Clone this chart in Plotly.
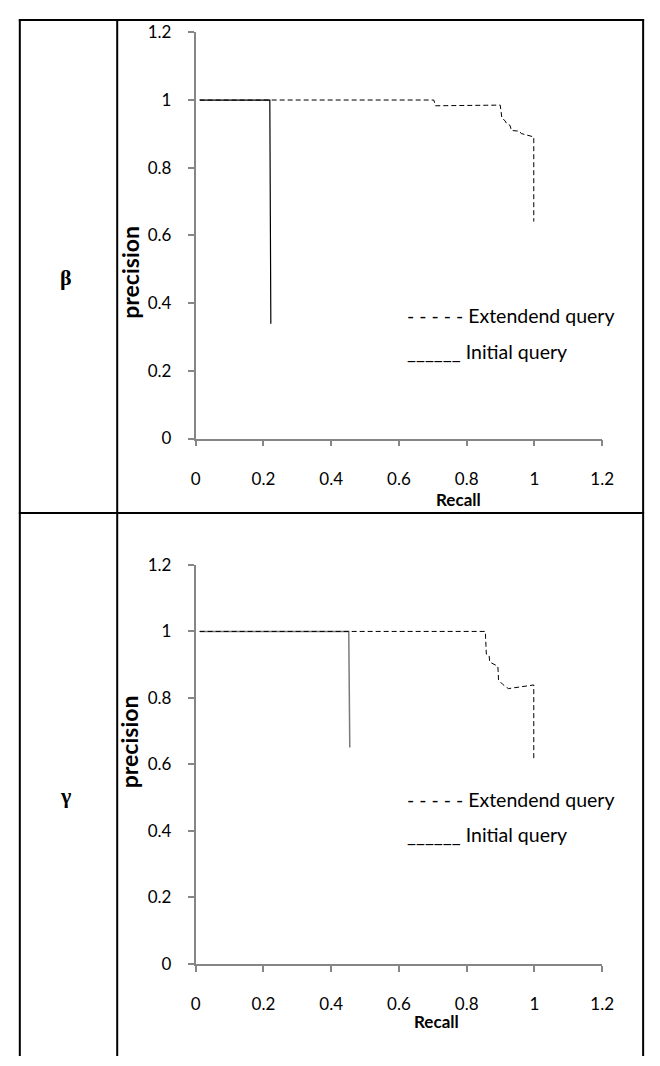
import plotly.graph_objects as go

# page is drawn inside the default 8px body margin, so work in window pixels
OFF = 8
FW, FH = 652, 1058

# ---------------- data ----------------
tick_vals = [0, 0.2, 0.4, 0.6, 0.8, 1.0, 1.2]
tick_text = ["0", "0.2", "0.4", "0.6", "0.8", "1", "1.2"]

row_labels = ["β", "γ"]

# beta chart
beta_init_recall = [0.012, 0.219, 0.222]
beta_init_precision = [1.0, 1.0, 0.339]
beta_ext_recall = [0.012, 0.219, 0.703, 0.7075, 0.899, 0.904, 0.913, 0.918, 0.928,
                   0.932, 0.956, 0.961, 0.980, 0.998, 0.998]
beta_ext_precision = [1.0, 1.0, 1.0, 0.983, 0.985, 0.946, 0.939, 0.930, 0.925,
                      0.910, 0.908, 0.901, 0.896, 0.891, 0.641]

# gamma chart
gamma_init_recall = [0.012, 0.452, 0.455]
gamma_init_precision = [1.0, 1.0, 0.651]
gamma_ext_recall = [0.012, 0.452, 0.855, 0.858, 0.866, 0.868, 0.892, 0.894, 0.906,
                    0.923, 0.998, 0.998]
gamma_ext_precision = [1.0, 1.0, 1.0, 0.932, 0.929, 0.908, 0.895, 0.854, 0.841,
                       0.828, 0.839, 0.610]

legend_ext = "- - - - - Extendend query"
legend_init = "______ Initial query"
x_title = "Recall"
y_title = "precision"

# ---------------- layout helpers ----------------
def px(x):
    return (x - OFF) / FW

def py(y):
    return 1 - (y - OFF) / FH

FONT = "Lato"
AXIS_COLOR = "#868686"

fig = go.Figure()

# beta
fig.add_trace(go.Scatter(x=beta_ext_recall, y=beta_ext_precision, mode="lines",
                         line=dict(color="black", width=1, dash="5px,3px"),
                         xaxis="x", yaxis="y", hoverinfo="skip"))
fig.add_trace(go.Scatter(x=beta_init_recall, y=beta_init_precision, mode="lines",
                         line=dict(color="black", width=1.2),
                         xaxis="x", yaxis="y", hoverinfo="skip"))
# gamma
fig.add_trace(go.Scatter(x=gamma_init_recall, y=gamma_init_precision, mode="lines",
                         line=dict(color="#7a7a7a", width=1.5),
                         xaxis="x2", yaxis="y2", hoverinfo="skip"))
fig.add_trace(go.Scatter(x=gamma_ext_recall, y=gamma_ext_precision, mode="lines",
                         line=dict(color="black", width=1, dash="5px,3px"),
                         xaxis="x2", yaxis="y2", hoverinfo="skip"))

axis_common = dict(range=[0, 1.2], tickvals=tick_vals, ticktext=tick_text,
                   showline=True, linecolor=AXIS_COLOR, linewidth=1.5,
                   ticks="outside", ticklen=6, tickwidth=1.5, tickcolor=AXIS_COLOR,
                   showgrid=False, zeroline=False,
                   tickfont=dict(family=FONT, size=17, color="black"))

x_dom = [px(195.5), px(613)]
fig.update_layout(
    width=FW, height=FH, margin=dict(l=0, r=0, t=0, b=0),
    paper_bgcolor="white", plot_bgcolor="white", showlegend=False,
    xaxis=dict(domain=x_dom, anchor="y", ticklabelstandoff=18, **axis_common),
    yaxis=dict(domain=[py(436), py(21.6)], anchor="x", ticklabelstandoff=13, **axis_common),
    xaxis2=dict(domain=x_dom, anchor="y2", ticklabelstandoff=18, **axis_common),
    yaxis2=dict(domain=[py(972), py(565)], anchor="x2", ticklabelstandoff=13, **axis_common),
)

annotations = []
def ann(text, x, y, size, bold=False, angle=0, xanchor="center", family=FONT):
    annotations.append(dict(text=f"<b>{text}</b>" if bold else text,
                            x=px(x), y=py(y), xref="paper", yref="paper",
                            showarrow=False, textangle=angle, xanchor=xanchor,
                            yanchor="middle",
                            font=dict(family=family, size=size, color="black")))

# row labels
ann(row_labels[0], 62, 272, 22, bold=True, family="Liberation Serif")
ann(row_labels[1], 62, 800, 22, bold=True, family="Liberation Serif")
# axis titles
ann(y_title, 128, 266, 23, bold=True, angle=-90)
ann(x_title, 465, 498, 17, bold=True)
ann(y_title, 128, 745, 23, bold=True, angle=-90)
ann(x_title, 443, 1031, 17, bold=True)
# legend texts
ann(legend_ext, 410, 310, 19.5, xanchor="left")
ann(legend_init, 410, 347, 19.5, xanchor="left")
ann(legend_ext, 410, 804, 19.5, xanchor="left")
ann(legend_init, 410, 840, 19.5, xanchor="left")
fig.update_layout(annotations=annotations)

# table borders
shapes = []
def line(x0, y0, x1, y1):
    shapes.append(dict(type="line", xref="paper", yref="paper",
                       x0=px(x0), y0=py(y0), x1=px(x1), y1=py(y1),
                       line=dict(color="black", width=2)))
line(14, 9, 656, 9)
line(15, 8, 15, 1066)
line(115, 8, 115, 1066)
line(655, 8, 655, 1066)
line(14, 512, 656, 512)
fig.update_layout(shapes=shapes)

fig.write_html("out.html")
